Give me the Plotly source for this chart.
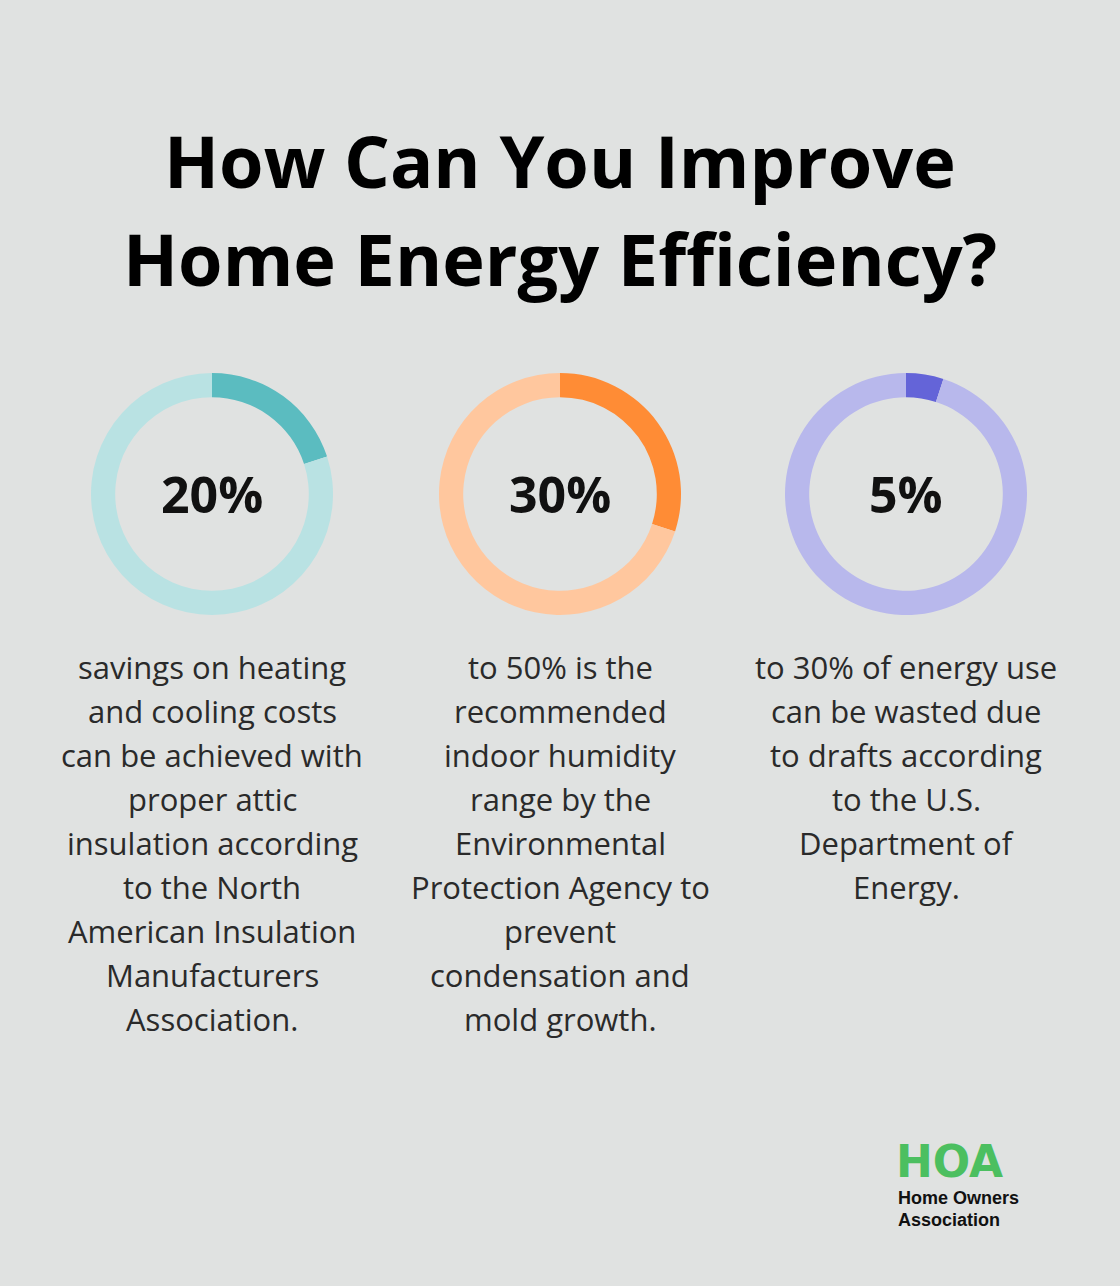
import plotly.graph_objects as go

W, H = 1120, 1286
BG = "#e0e2e1"

title_lines = ["How Can You Improve", "Home Energy Efficiency?"]
percents = [20, 30, 5]
labels = ["20%", "30%", "5%"]
strong_colors = ["#5bbcc0", "#ff8c35", "#6464d8"]
light_colors = ["#b9e2e3", "#ffc79e", "#b8b8ec"]
centers_x = [212, 560, 906]
descriptions = [
    ["savings on heating", "and cooling costs", "can be achieved with", "proper attic",
     "insulation according", "to the North", "American Insulation", "Manufacturers", "Association."],
    ["to 50% is the", "recommended", "indoor humidity", "range by the", "Environmental",
     "Protection Agency to", "prevent", "condensation and", "mold growth."],
    ["to 30% of energy use", "can be wasted due", "to drafts according", "to the U.S.",
     "Department of", "Energy."],
]

cy, r = 494, 121


def py(y):
    return 1 - y / H


fig = go.Figure()
for p, lab, sc, lc, cx in zip(percents, labels, strong_colors, light_colors, centers_x):
    fig.add_trace(go.Pie(
        values=[p, 100 - p], marker=dict(colors=[sc, lc], line=dict(width=0)),
        hole=0.8, sort=False, direction="clockwise", rotation=0,
        textinfo="none", hoverinfo="skip", showlegend=False,
        domain=dict(x=[(cx - r) / W, (cx + r) / W], y=[py(cy + r), py(cy - r)]),
    ))
    fig.add_annotation(x=cx / W, y=py(cy), xref="paper", yref="paper", text="<b>" + lab + "</b>",
                       showarrow=False, xanchor="center", yanchor="middle",
                       font=dict(family="Open Sans", size=50, color="#111"))

# description text, one annotation per line to get the spacing
for cx, lines in zip(centers_x, descriptions):
    for i, line in enumerate(lines):
        fig.add_annotation(x=cx / W, y=py(667 + 44 * i), xref="paper", yref="paper", text=line,
                           showarrow=False, xanchor="center", yanchor="middle",
                           font=dict(family="Open Sans", size=31, color="#2a2a2a"))

for i, t in enumerate(title_lines):
    fig.add_annotation(x=0.5, y=py(160 + 98 * i), xref="paper", yref="paper",
                       text="<b>" + t + "</b>", showarrow=False, xanchor="center", yanchor="middle",
                       font=dict(family="Open Sans", size=72, color="#000"))

fig.add_annotation(x=894 / W, y=py(1161), xref="paper", yref="paper", text="<b>HOA</b>",
                   showarrow=False, xanchor="left", yanchor="middle",
                   font=dict(family="DejaVu Sans", size=44, color="#4cbf60"))
fig.add_annotation(x=896 / W, y=py(1198), xref="paper", yref="paper", text="<b>Home Owners</b>",
                   showarrow=False, xanchor="left", yanchor="middle",
                   font=dict(family="Liberation Sans", size=18, color="#111"))
fig.add_annotation(x=896 / W, y=py(1220), xref="paper", yref="paper", text="<b>Association</b>",
                   showarrow=False, xanchor="left", yanchor="middle",
                   font=dict(family="Liberation Sans", size=18, color="#111"))

fig.update_layout(width=W, height=H, margin=dict(l=0, r=0, t=0, b=0),
                  paper_bgcolor=BG, plot_bgcolor=BG)
fig.write_html("out.html", config={"displayModeBar": False},
               post_script="document.body.style.margin='0';")
